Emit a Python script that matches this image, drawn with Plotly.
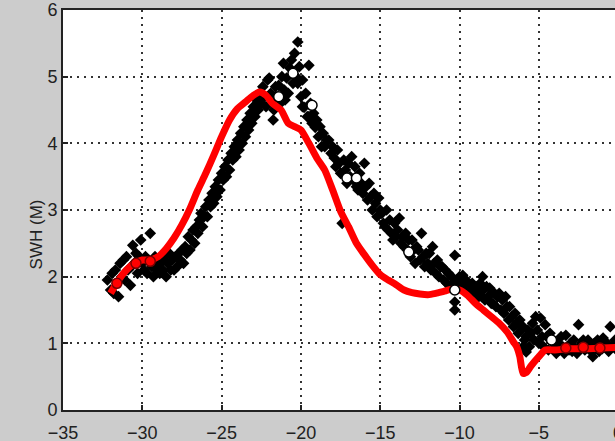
import plotly.graph_objects as go

# ---- data ----
obs_x = [
    -32.2,-32.0,-31.9,-31.8,-31.7,-31.6,-31.5,-31.4,-31.3,-31.2,-31.1,-31.0,-30.9,-30.75,-30.7,-30.6,-30.5,-30.4,-30.3,-30.2,-30.1,-30.0,
    -29.9,-29.8,-29.7,-29.6,-29.5,-29.4,-29.3,-29.2,-29.1,-29.0,-28.9,-28.85,-28.7,-28.6,-28.5,-28.4,-28.3,-28.2,-28.1,
    -28.0,-27.9,-27.8,-27.7,-27.6,-27.5,-27.4,-27.3,-27.2,-27.1,-27.0,-26.9,-26.8,-26.7,-26.6,-26.5,-26.4,-26.3,-26.2,-26.1,
    -26.0,-25.9,-25.8,-25.7,-25.6,-25.5,-25.4,-25.3,-25.2,-25.1,-25.0,-24.9,-24.8,-24.7,-24.6,-24.5,-24.4,-24.3,-24.2,-24.1,
    -24.0,-23.9,-23.8,-23.7,-23.6,-23.5,-23.4,-23.3,-23.2,-23.1,-23.0,-22.9,-22.8,-22.7,-22.6,-22.5,-22.4,-22.3,-22.2,-22.1,
    -22.0,-21.9,-21.8,-21.75,-21.7,-21.6,-21.5,-21.4,-21.3,-21.2,-21.1,-21.05,-21.0,-20.9,-20.8,-20.7,-20.6,-20.5,-20.4,-20.3,-20.2,-20.2,-20.1,-20.0,-19.9,
    -19.9,-19.8,-19.7,-19.6,-19.5,-19.5,-19.4,-19.3,-19.2,-19.1,-19.0,-18.9,-18.8,-18.7,-18.6,-18.5,-18.4,-18.25,-18.1,-18.0,
    -17.9,-17.8,-17.7,-17.6,-17.5,-17.4,-17.4,-17.3,-17.2,-17.1,-17.0,-16.9,-16.8,-16.7,-16.6,-16.5,-16.4,-16.3,-16.2,-16.1,-16.0,
    -15.9,-15.8,-15.7,-15.6,-15.5,-15.4,-15.3,-15.2,-15.1,-15.0,-14.9,-14.8,-14.7,-14.6,-14.5,-14.4,-14.3,-14.2,-14.1,-14.0,
    -13.9,-13.8,-13.7,-13.6,-13.5,-13.4,-13.3,-13.2,-13.1,-13.0,-12.9,-12.8,-12.7,-12.6,-12.5,-12.4,-12.3,-12.2,-12.1,-12.0,
    -11.9,-11.8,-11.7,-11.6,-11.5,-11.4,-11.3,-11.2,-11.1,-11.0,-10.9,-10.8,-10.7,-10.6,-10.5,-10.4,-10.3,-10.3,-10.3,-10.2,-10.1,-10.0,
    -9.9,-9.8,-9.7,-9.6,-9.5,-9.4,-9.3,-9.2,-9.1,-9.0,-8.9,-8.8,-8.7,-8.6,-8.55,-8.5,-8.4,-8.3,-8.2,-8.1,-8.0,
    -7.9,-7.8,-7.7,-7.6,-7.5,-7.4,-7.3,-7.2,-7.1,-7.0,-6.9,-6.85,-6.7,-6.6,-6.5,-6.4,-6.3,-6.2,-6.1,-6.0,-6.0,
    -5.9,-5.8,-5.8,-5.7,-5.6,-5.5,-5.4,-5.3,-5.2,-5.1,-5.0,-4.9,-4.8,-4.7,-4.6,-4.5,-4.4,-4.3,-4.1,-4.0,
    -3.9,-3.8,-3.7,-3.6,-3.5,-3.4,-3.3,-3.2,-3.1,-3.0,-2.9,-2.8,-2.7,-2.6,-2.5,-2.4,-2.3,-2.2,-2.1,-2.0,
    -1.9,-1.8,-1.7,-1.6,-1.5,-1.4,-1.3,-1.2,-1.1,-1.0,-0.95,-0.8,-0.7,-0.6,-0.5,-0.4,-0.3,-0.2,-0.1,
]
obs_y = [
    1.95,1.8,2.05,1.75,2.1,1.9,1.7,2.2,2.0,2.25,1.95,2.3,2.1,1.87,2.15,2.47,2.2,2.35,2.05,2.3,2.55,2.2,
    2.1,2.3,2.05,2.25,2.65,2.15,2.0,2.3,2.1,2.2,2.05,2.2,2.1,2.3,2.0,2.2,2.35,2.1,2.25,
    2.1,2.3,2.15,2.35,2.25,2.4,2.2,2.45,2.35,2.6,2.4,2.55,2.7,2.5,2.75,2.65,2.85,2.95,2.75,2.9,
    3.05,2.9,3.15,3.05,3.25,3.1,3.35,3.2,3.45,3.3,3.55,3.45,3.65,3.5,3.75,3.6,3.85,3.75,3.95,3.8,
    4.05,3.9,4.15,4.0,4.25,4.1,4.35,4.2,4.45,4.3,4.55,4.4,4.65,4.5,4.75,4.6,4.85,4.7,4.55,4.95,
    4.98,4.75,4.6,4.35,4.5,4.85,4.7,4.87,4.6,5.0,5.2,4.8,4.65,4.98,4.75,5.13,5.25,4.9,5.35,5.0,5.52,4.9,5.15,4.7,4.95,
    4.55,4.54,4.75,4.4,5.17,4.4,4.6,4.3,4.45,4.24,4.35,4.1,4.25,3.95,4.15,3.95,4.05,4.05,3.85,3.95,
    3.78,3.65,3.9,3.7,3.55,3.55,2.8,3.75,3.6,3.4,3.7,3.5,3.8,3.45,3.65,3.35,3.3,3.55,3.4,3.25,3.7,
    3.35,3.15,3.4,3.2,3.0,3.25,3.1,2.9,3.18,3.0,2.95,2.8,2.75,3.0,2.7,2.85,2.65,2.55,2.8,2.6,
    2.7,2.88,2.5,2.6,2.45,2.65,2.4,2.55,2.3,2.55,2.4,2.2,2.45,2.4,2.25,2.65,2.3,2.15,2.35,2.2,
    2.35,2.1,2.45,2.2,2.05,2.25,2.0,2.15,2.15,1.95,2.1,1.9,2.05,1.85,2.0,1.9,2.32,1.62,1.5,1.95,1.85,2.0,
    1.9,2.02,1.8,1.95,1.75,1.85,1.7,1.9,1.8,1.65,1.85,1.75,1.9,1.7,2.0,1.8,1.65,1.85,1.7,1.83,1.6,
    1.6,1.75,1.55,1.7,1.75,1.5,1.65,1.45,1.7,1.55,1.35,1.55,1.4,1.25,1.45,1.3,1.15,1.35,1.2,1.25,0.95,
    1.05,1.1,0.87,1.2,0.95,1.15,1.3,1.05,1.4,1.2,1.0,1.38,1.1,0.95,1.28,1.1,0.9,1.15,1.0,0.9,
    0.85,1.0,0.9,1.1,0.95,0.85,1.12,0.95,0.9,1.0,0.88,1.05,0.92,0.85,1.28,0.95,1.0,1.05,0.9,0.95,
    1.05,0.9,0.98,0.8,1.0,0.92,1.05,0.88,1.0,0.92,1.08,0.95,1.0,0.88,1.25,0.95,0.97,1.05,0.9,
]

model_x = [-32.0,-31.5,-31.0,-30.5,-30.0,-29.5,-29.0,-28.5,-28.0,-27.5,-27.0,-26.5,-26.0,-25.5,-25.0,
           -24.5,-24.0,-23.5,-23.0,-22.6,-22.2,-21.8,-21.25,-20.8,-20.4,-20.0,-19.5,-19.0,-18.5,-18.0,
           -17.5,-17.0,-16.5,-16.0,-15.5,-15.0,-14.5,-14.0,-13.5,-13.0,-12.5,-12.0,-11.5,-11.0,-10.5,
           -10.0,-9.5,-9.0,-8.5,-8.0,-7.5,-7.0,-6.6,-6.4,-6.2,-6.0,-5.8,-5.5,-5.0,-4.6,-4.0,-3.0,-2.0,-1.0,0.0]
model_y = [1.75,1.95,2.1,2.2,2.25,2.25,2.3,2.42,2.58,2.78,3.02,3.3,3.55,3.82,4.1,
           4.35,4.52,4.62,4.72,4.77,4.72,4.6,4.5,4.3,4.25,4.2,4.0,3.78,3.6,3.3,
           2.98,2.75,2.5,2.33,2.17,2.03,1.95,1.88,1.8,1.76,1.74,1.73,1.75,1.78,1.81,
           1.8,1.72,1.6,1.5,1.4,1.3,1.17,1.02,0.95,0.8,0.55,0.56,0.66,0.8,0.9,0.9,0.92,0.92,0.93,0.94]

circ_obs_x = [-21.4,-20.5,-19.3,-17.1,-16.5,-13.2,-10.3,-4.2]
circ_obs_y = [4.7,5.05,4.57,3.48,3.48,2.37,1.8,1.05]
circ_mod_x = [-31.6,-30.4,-29.5,-3.3,-2.2,-1.15]
circ_mod_y = [1.9,2.2,2.23,0.93,0.94,0.93]

x_ticks = [-35,-30,-25,-20,-15,-10,-5,0]
y_ticks = [0,1,2,3,4,5,6]
y_title = "SWH (M)"

FONT = "Liberation Sans, Arial, sans-serif"

fig = go.Figure()
fig.add_trace(go.Scatter(x=obs_x, y=obs_y, mode="markers",
                         marker=dict(symbol="diamond", size=9, color="black"),
                         showlegend=False))
fig.add_trace(go.Scatter(x=model_x, y=model_y, mode="lines",
                         line=dict(color="#ff0000", width=7, shape="spline", smoothing=0.6),
                         showlegend=False))
fig.add_trace(go.Scatter(x=circ_mod_x, y=circ_mod_y, mode="markers",
                         marker=dict(symbol="circle", size=10, color="#ff0000",
                                     line=dict(color="#7a0000", width=1.5)),
                         showlegend=False))
fig.add_trace(go.Scatter(x=circ_obs_x, y=circ_obs_y, mode="markers",
                         marker=dict(symbol="circle", size=10, color="white",
                                     line=dict(color="black", width=1.5)),
                         showlegend=False))

axis_common = dict(showgrid=True, gridcolor="#333333", gridwidth=1.5, griddash="2px,5px",
                   zeroline=False, showline=True, linecolor="#222222", linewidth=2,
                   mirror=True, ticks="inside", ticklen=5, tickcolor="#222222", tickwidth=2,
                   automargin=False,
                   tickfont=dict(family=FONT, size=18, color="#222222"))

fig.update_xaxes(range=[-35, -0.2], tickvals=x_ticks, ticklabelstandoff=5, **axis_common)
fig.update_yaxes(range=[0, 6], tickvals=y_ticks, **axis_common)

# tick label "0" at x = 0, just past the right edge of the plotting area (partly visible)
x_zero_paper = (0 - (-35)) / (-0.2 - (-35))
fig.add_annotation(x=x_zero_paper, y=0, xref="paper", yref="paper", text=str(x_ticks[-1]),
                   showarrow=False, xanchor="center", yanchor="top", yshift=-11,
                   font=dict(family=FONT, size=18, color="#222222"))
fig.add_annotation(x=-0.0690, y=0.44, xref="paper", yref="paper", text=y_title,
                   textangle=-90, showarrow=False,
                   font=dict(family=FONT, size=17, color="#222222"))

fig.update_layout(width=615, height=441, margin=dict(l=63, r=0, t=10, b=31),
                  paper_bgcolor="#cccccc", plot_bgcolor="white")

fig.write_html("out.html")
